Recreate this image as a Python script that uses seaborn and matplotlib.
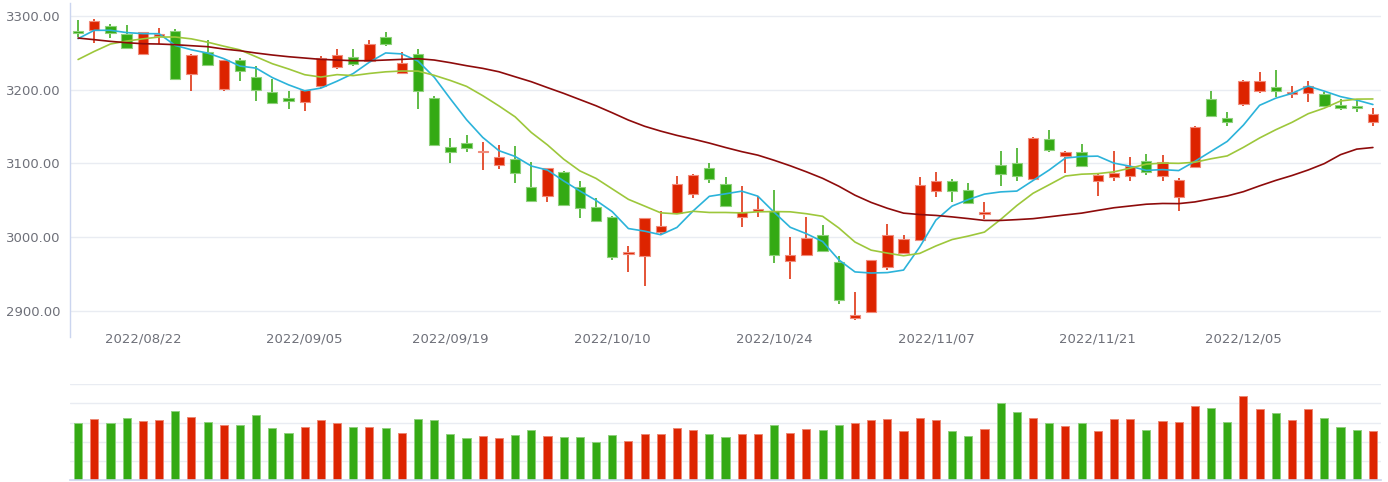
import numpy as np
import pandas as pd
import matplotlib
matplotlib.use("Agg")
import matplotlib.pyplot as plt
import matplotlib.colors as mcolors
import seaborn as sns

# ---------------- data ----------------
open_ = [3279.7, 3281.1, 3286.9, 3276.1, 3248.1, 3272.9, 3279.7, 3222.0, 3251.3, 3201.2,
         3240.5, 3217.5, 3197.2, 3189.1, 3183.2, 3205.3, 3231.5, 3244.5, 3239.1, 3271.6,
         3223.3, 3248.1, 3188.6, 3121.9, 3127.7, 3115.1, 3097.5, 3106.5, 3067.8, 3055.6,
         3089.0, 3067.8, 3041.1, 3027.2, 2976.7, 2974.4, 3006.9, 3033.0, 3058.7, 3093.9,
         3072.3, 3027.2, 3036.2, 3035.3, 2967.2, 2976.2, 3003.7, 2966.3, 2890.9, 2898.6,
         2959.5, 2978.9, 2995.6, 3062.4, 3076.8, 3064.6, 3031.7, 3098.4, 3100.2, 3079.0,
         3133.1, 3110.6, 3116.0, 3075.9, 3082.2, 3083.5, 3102.9, 3083.5, 3054.2, 3094.8,
         3187.3, 3161.1, 3180.5, 3198.5, 3204.4, 3194.5, 3195.8, 3194.9, 3179.1, 3177.8,
         3155.7]
close = [3276.5, 3293.2, 3276.5, 3256.3, 3277.9, 3276.1, 3213.9, 3246.8, 3233.7, 3240.5,
         3225.6, 3199.9, 3182.7, 3185.0, 3199.9, 3243.6, 3246.8, 3234.6, 3262.1, 3262.6,
         3236.9, 3198.5, 3125.5, 3115.1, 3121.0, 3116.9, 3108.3, 3086.7, 3049.7, 3093.9,
         3043.4, 3040.2, 3022.7, 2973.1, 2979.5, 3025.8, 3015.9, 3072.3, 3084.9, 3078.6,
         3042.9, 3033.9, 3038.4, 2976.2, 2976.2, 2999.2, 2981.2, 2914.4, 2894.1, 2968.5,
         3002.4, 2997.9, 3070.9, 3076.8, 3063.3, 3046.6, 3034.8, 3085.8, 3082.6, 3134.5,
         3118.3, 3116.0, 3096.2, 3084.9, 3087.1, 3097.1, 3088.0, 3101.6, 3078.1, 3149.8,
         3164.7, 3155.7, 3212.1, 3212.1, 3198.5, 3197.2, 3205.3, 3177.3, 3175.1, 3175.1,
         3167.0]
high = [3294.6, 3296.4, 3288.7, 3287.4, 3278.2, 3284.2, 3282.0, 3248.1, 3267.0, 3240.8,
        3243.6, 3232.4, 3214.3, 3198.5, 3200.2, 3245.9, 3254.9, 3254.9, 3267.0, 3278.4,
        3251.3, 3254.9, 3191.8, 3134.5, 3139.0, 3129.5, 3125.0, 3124.1, 3101.6, 3094.2,
        3089.3, 3076.8, 3052.9, 3029.4, 2987.5, 3026.1, 3036.2, 3083.5, 3085.2, 3100.7,
        3082.2, 3069.1, 3055.6, 3064.6, 3001.0, 3027.2, 3016.8, 2973.9, 2925.7, 2968.8,
        3018.2, 3003.7, 3082.2, 3088.0, 3079.1, 3073.6, 3047.5, 3117.4, 3120.5, 3136.3,
        3145.8, 3116.3, 3126.4, 3085.2, 3117.4, 3108.3, 3112.8, 3111.5, 3079.9, 3151.2,
        3198.5, 3170.1, 3213.4, 3224.7, 3226.5, 3205.3, 3212.1, 3196.3, 3187.3, 3187.3,
        3175.1]
low = [3271.6, 3264.0, 3270.7, 3256.0, 3247.0, 3262.6, 3213.0, 3198.5, 3232.4, 3198.5,
       3212.0, 3184.1, 3181.3, 3173.3, 3171.5, 3203.0, 3227.9, 3232.4, 3238.8, 3259.3,
       3222.0, 3173.7, 3125.0, 3100.7, 3115.1, 3091.0, 3093.0, 3073.0, 3047.5, 3047.5,
       3043.1, 3026.3, 3021.8, 2968.5, 2952.8, 2933.4, 3003.7, 3032.7, 3052.9, 3074.1,
       3042.6, 3013.6, 3027.2, 2964.9, 2943.7, 2975.9, 2979.8, 2909.9, 2887.4, 2897.3,
       2955.0, 2976.7, 2995.3, 3054.2, 3047.5, 3046.3, 3024.9, 3070.0, 3075.9, 3077.7,
       3115.1, 3086.7, 3095.9, 3055.6, 3075.9, 3075.9, 3084.9, 3076.8, 3035.3, 3094.5,
       3164.4, 3151.2, 3177.8, 3195.8, 3189.5, 3188.6, 3183.6, 3177.0, 3172.4, 3169.7,
       3151.2]
volume = [2.96, 3.19, 2.96, 3.24, 3.08, 3.14, 3.61, 3.31, 3.01, 2.89,
          2.89, 3.38, 2.72, 2.47, 2.77, 3.14, 2.96, 2.77, 2.77, 2.72,
          2.47, 3.19, 3.14, 2.40, 2.18, 2.30, 2.18, 2.35, 2.60, 2.30,
          2.23, 2.23, 1.99, 2.35, 2.06, 2.40, 2.40, 2.72, 2.60, 2.40,
          2.23, 2.40, 2.40, 2.89, 2.47, 2.65, 2.60, 2.89, 2.96, 3.14,
          3.19, 2.54, 3.24, 3.14, 2.54, 2.30, 2.65, 4.02, 3.55, 3.24,
          2.96, 2.82, 2.96, 2.54, 3.19, 3.19, 2.60, 3.08, 3.01, 3.87,
          3.78, 3.01, 4.39, 3.68, 3.50, 3.14, 3.68, 3.24, 2.77, 2.60,
          2.54]
ma5 = [3269.3, 3280.6, 3280.6, 3277.5, 3276.1, 3276.0, 3260.1, 3254.2, 3249.7, 3242.2,
       3232.1, 3229.3, 3216.5, 3206.7, 3198.6, 3202.2, 3211.6, 3222.0, 3237.4, 3249.9,
       3248.6, 3238.9, 3217.1, 3187.7, 3159.4, 3135.4, 3117.4, 3109.6, 3096.6, 3091.1,
       3076.4, 3062.8, 3050.0, 3034.7, 3011.8, 3008.3, 3003.4, 3013.3, 3035.7, 3055.5,
       3058.9, 3062.5, 3055.7, 3034.0, 3013.5, 3004.8, 2994.2, 2969.4, 2953.0, 2951.5,
       2952.1, 2955.5, 2986.8, 3023.3, 3042.3, 3051.1, 3058.5, 3061.5, 3062.6, 3076.9,
       3091.2, 3107.4, 3109.5, 3110.0, 3100.5, 3096.3, 3090.7, 3091.7, 3090.4, 3102.9,
       3116.4, 3130.0, 3152.1, 3178.9, 3188.6, 3195.1, 3205.0, 3198.1, 3190.7, 3186.0,
       3180.0]
ma10 = [3241.0, 3252.0, 3262.0, 3266.0, 3269.0, 3271.5, 3271.5, 3269.0, 3264.5, 3259.1,
        3254.1, 3244.7, 3235.3, 3228.2, 3220.4, 3217.2, 3220.5, 3219.2, 3222.1, 3224.3,
        3225.4, 3225.3, 3219.6, 3212.6, 3204.6, 3192.0, 3178.1, 3163.3, 3142.1, 3125.2,
        3105.9, 3090.0, 3079.8, 3065.6, 3051.4, 3042.3, 3033.1, 3031.7, 3035.2, 3033.6,
        3033.6, 3033.0, 3034.5, 3034.8, 3034.5, 3031.9, 3028.4, 3012.6, 2993.5, 2982.5,
        2978.5, 2974.9, 2978.1, 2988.2, 2996.9, 3001.6, 3007.0, 3024.1, 3043.0, 3059.6,
        3071.2, 3083.0, 3085.5, 3086.3, 3088.7, 3093.7, 3099.1, 3100.6, 3100.2, 3101.7,
        3106.4, 3110.3, 3121.9, 3134.6, 3145.8, 3155.8, 3167.5, 3175.1, 3184.8, 3187.3,
        3187.5]
ma30 = [3270.1, 3267.9, 3265.6, 3263.8, 3262.4, 3262.0, 3261.1, 3259.7, 3258.4, 3255.2,
        3252.9, 3249.8, 3247.1, 3244.8, 3243.0, 3241.2, 3240.3, 3239.4, 3239.4, 3240.3,
        3241.2, 3242.1, 3240.3, 3236.7, 3232.6, 3229.0, 3224.4, 3217.6, 3210.9, 3202.9,
        3195.1, 3186.7, 3178.3, 3168.8, 3158.9, 3150.5, 3143.9, 3138.1, 3133.1, 3127.7,
        3121.7, 3116.1, 3111.3, 3104.4, 3096.9, 3088.7, 3079.9, 3069.2, 3057.0, 3047.2,
        3039.3, 3032.7, 3030.8, 3029.6, 3027.6, 3025.3, 3022.8, 3022.8, 3023.9, 3025.2,
        3027.7, 3030.3, 3032.7, 3036.4, 3040.0, 3042.4, 3044.8, 3045.8, 3045.6, 3047.9,
        3052.0, 3056.0, 3061.8, 3069.7, 3077.1, 3083.7, 3091.2, 3099.9, 3112.0, 3119.5,
        3121.7]
tick_labels = ["2022/08/22", "2022/09/05", "2022/09/19", "2022/10/10",
               "2022/10/24", "2022/11/07", "2022/11/21", "2022/12/05"]
price_ticks = [2900, 3000, 3100, 3200, 3300]
closed_days = ["2022-09-12", "2022-10-03", "2022-10-04", "2022-10-05",
               "2022-10-06", "2022-10-07", "2022-11-30"]

dates = [d.strftime("%Y/%m/%d") for d in pd.bdate_range("2022-08-16", "2022-12-15")
         if d.strftime("%Y-%m-%d") not in closed_days]

# ---------------- styling ----------------
UP, DOWN = "#dd2400", "#34aa14"
UP_EDGE, DOWN_EDGE = "#f08c7c", "#8fd07c"
C_MA5, C_MA10, C_MA30 = "#2bb3da", "#9dc73b", "#8e0b0b"
GRID = "#e9ecf2"
LABEL = "#6e7079"

sns.set_theme(style="white")
plt.rcParams["font.family"] = ["DejaVu Sans"]

df = pd.DataFrame({"date": dates, "open": open_, "close": close, "high": high,
                   "low": low, "volume": volume, "ma5": ma5, "ma10": ma10, "ma30": ma30})
df["pos"] = np.arange(len(df))
df["dir"] = np.where(df["close"] >= df["open"], "up", "down")

W, H = 1388, 482
fig = plt.figure(figsize=(W / 100, H / 100), dpi=100)
ax = fig.add_axes([70 / W, (H - 337) / H, 1311 / W, 334 / H])
axv = fig.add_axes([70 / W, (H - 480) / H, 1311 / W, 95.8 / H])

# ---- price panel ----
for t in price_ticks:
    ax.axhline(t, color=GRID, lw=1.0, zorder=0)

cols = np.where(df["dir"] == "up", UP, DOWN)
edges = np.where(df["dir"] == "up", UP_EDGE, DOWN_EDGE)
ax.vlines(df["pos"], df["low"], df["high"], colors=cols, lw=1.1, zorder=2)
body_lo = np.minimum(df["open"], df["close"])
body_h = np.maximum(np.abs(df["close"] - df["open"]), 1.2)
ax.bar(df["pos"], body_h, bottom=body_lo, width=0.64, color=cols,
       edgecolor=edges, linewidth=0.8, zorder=3)

sns.lineplot(data=df, x="pos", y="ma5", color=C_MA5, lw=1.2, ax=ax, zorder=4)
sns.lineplot(data=df, x="pos", y="ma10", color=C_MA10, lw=1.2, ax=ax, zorder=4)
sns.lineplot(data=df, x="pos", y="ma30", color=C_MA30, lw=1.2, ax=ax, zorder=4)

ax.set_xlim(-0.5, len(df) - 0.5)
ax.set_ylim(3300 - (337 - 16) / 0.7375, 3300 + (16 - 3) / 0.7375)
ax.set_yticks(price_ticks)
ax.set_yticklabels([f"{t:.2f}" for t in price_ticks])
tick_pos = [dates.index(lbl) for lbl in tick_labels]
ax.set_xticks(tick_pos)
ax.set_xticklabels(tick_labels)
ax.set_xlabel("")
ax.set_ylabel("")
ax.tick_params(axis="x", length=0, pad=-3.5, labelsize=9.5, labelcolor=LABEL)
ax.tick_params(axis="y", length=0, pad=7, labelsize=9.5, labelcolor=LABEL)
for s in ["top", "right", "bottom"]:
    ax.spines[s].set_visible(False)
ax.spines["left"].set_color("#cbd5ef")
ax.spines["left"].set_linewidth(1.0)
ax.grid(False)
ax.patch.set_alpha(0)

# ---- volume panel ----
for t in [1, 2, 3, 4, 5]:
    axv.axhline(t, color=GRID, lw=1.0, zorder=0)
sns.barplot(data=df, x="pos", y="volume", hue="dir", palette={"up": UP, "down": DOWN},
            dodge=False, width=0.5, legend=False, ax=axv, zorder=2, saturation=1)
for p in axv.patches:
    fc = np.array(mcolors.to_rgb(p.get_facecolor()))
    p.set_edgecolor(tuple(fc + (1 - fc) * 0.45))
    p.set_linewidth(0.7)
axv.set_xlim(-0.5, len(df) - 0.5)
axv.set_ylim(0, 5)
axv.set_xticks([])
axv.set_yticks([])
axv.set_xlabel("")
axv.set_ylabel("")
for s in ["top", "right", "left"]:
    axv.spines[s].set_visible(False)
axv.spines["bottom"].set_color("#cbd5ef")
axv.spines["bottom"].set_linewidth(1.2)
axv.patch.set_alpha(0)

fig.savefig("out.png", dpi=100, facecolor="white")
